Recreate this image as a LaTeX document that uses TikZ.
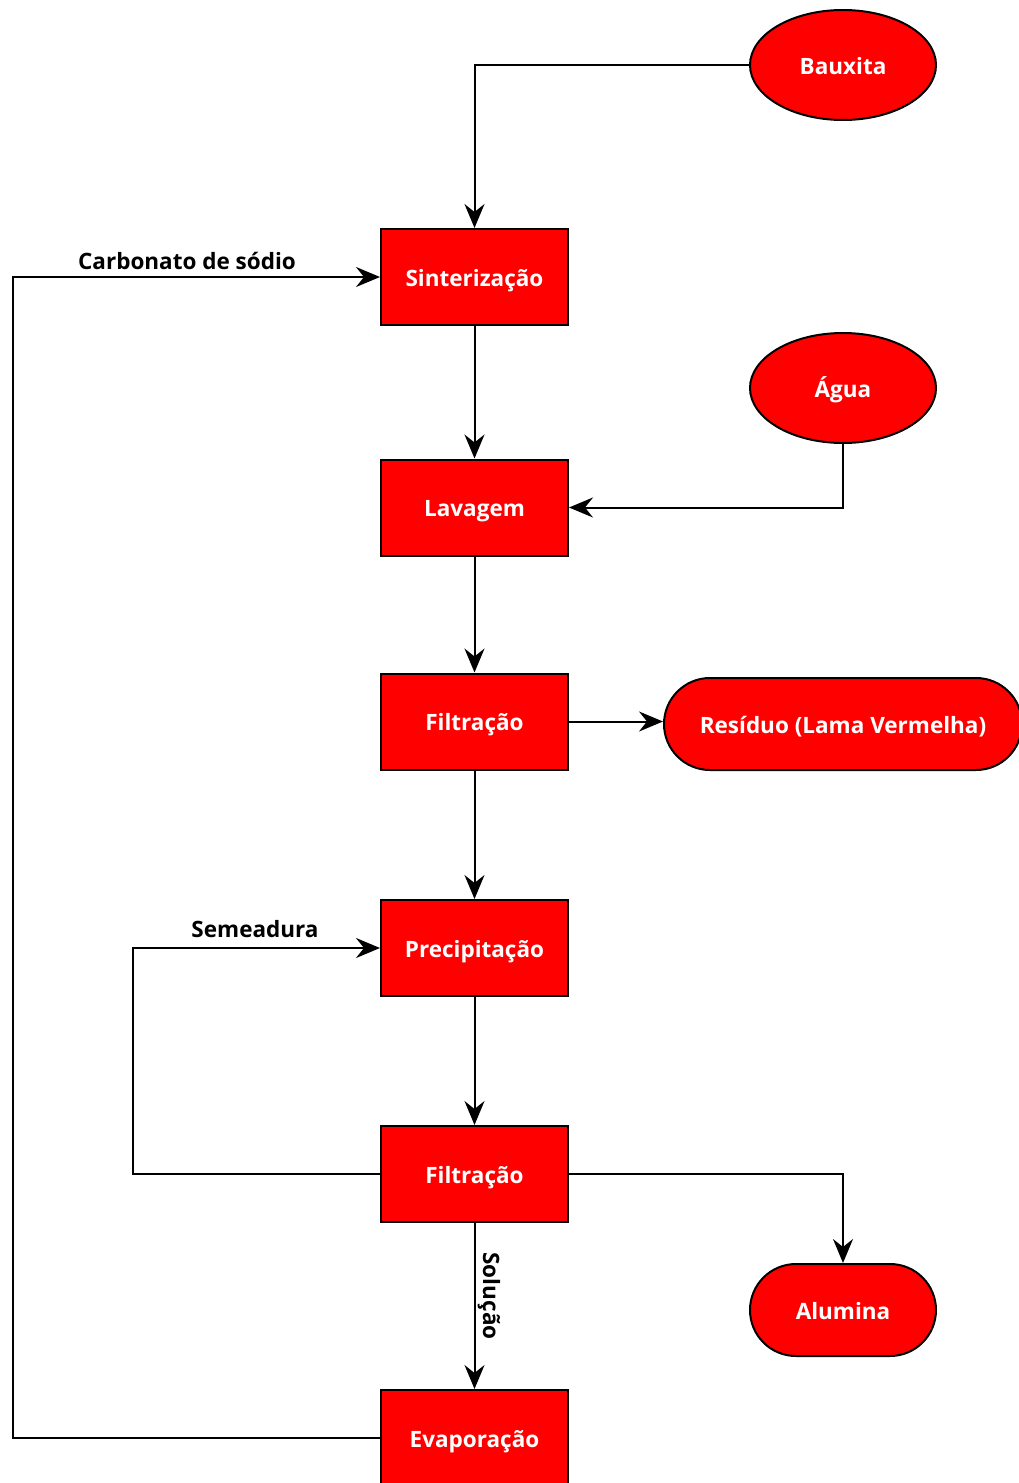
\documentclass[tikz,border=0pt]{standalone}
\usepackage{fontspec}
\setmainfont{Open Sans}
\usetikzlibrary{arrows.meta,shapes.geometric,shapes.misc}
\begin{document}
\begin{tikzpicture}[x=1pt,y=-1pt,
  every node/.style={font=\bfseries\fontsize{22.5}{26}\selectfont},
  shapetext/.style={text=white,text height=20pt,text depth=2pt,inner sep=0pt,
    draw=black,line width=2pt,fill=red},
  procbox/.style={shapetext,rectangle,minimum width=187pt,minimum height=96pt},
  source/.style={shapetext,ellipse,minimum width=186pt,minimum height=110pt},
  product/.style={shapetext,rounded rectangle,minimum height=92pt},
  flow/.style={draw=black,line width=2pt,-{Stealth[length=24pt,width=20pt,inset=8pt]}},
  lbl/.style={text=black,inner sep=1pt}]
\useasboundingbox (0,0) rectangle (1019,1483);

% process steps
\node[procbox] (sint) at (474.5,277) {Sinterização};
\node[procbox] (lav)  at (474.5,507.5) {Lavagem};
\node[procbox] (filt1) at (474.5,721.5) {Filtração};
\node[procbox] (prec) at (474.5,948) {Precipitação};
\node[procbox] (filt2) at (474.5,1174) {Filtração};
\node[procbox] (evap) at (474.5,1438) {Evaporação};

% inputs and outputs
\node[source] (baux) at (843,65) {Bauxita};
\node[source] (agua) at (843,388) {Água};
\node[product,minimum width=358pt] (res) at (843,724) {Resíduo (Lama Vermelha)};
\node[product,minimum width=186pt] (alum) at (843,1310) {Alumina};

% main line
\draw[flow] (sint) -- (lav);
\draw[flow] (lav) -- (filt1);
\draw[flow] (filt1) -- (prec);
\draw[flow] (prec) -- (filt2);
\draw[flow] (filt2) -- (evap);
\node[lbl,rotate=-90] (sol) at (489,1296) {Solução};

% side streams
\draw[flow] (baux.west) -| (sint.north);
\draw[flow] (agua.south) |- (lav.east);
\draw[flow] (filt1.east) -- (filt1.east -| res.west);
\draw[flow] (filt2.east) -| (alum.north);

% recycle loops
\coordinate (semx) at (133,1174);
\draw[flow] (filt2.west) -- (semx) |- (prec.west);
\node[lbl] (sem) at (255,929) {Semeadura};

\coordinate (carbx) at (13,1438);
\draw[flow] (evap.west) -- (carbx) |- (sint.west);
\node[lbl] (carb) at (187,261) {Carbonato de sódio};
\end{tikzpicture}
\end{document}
